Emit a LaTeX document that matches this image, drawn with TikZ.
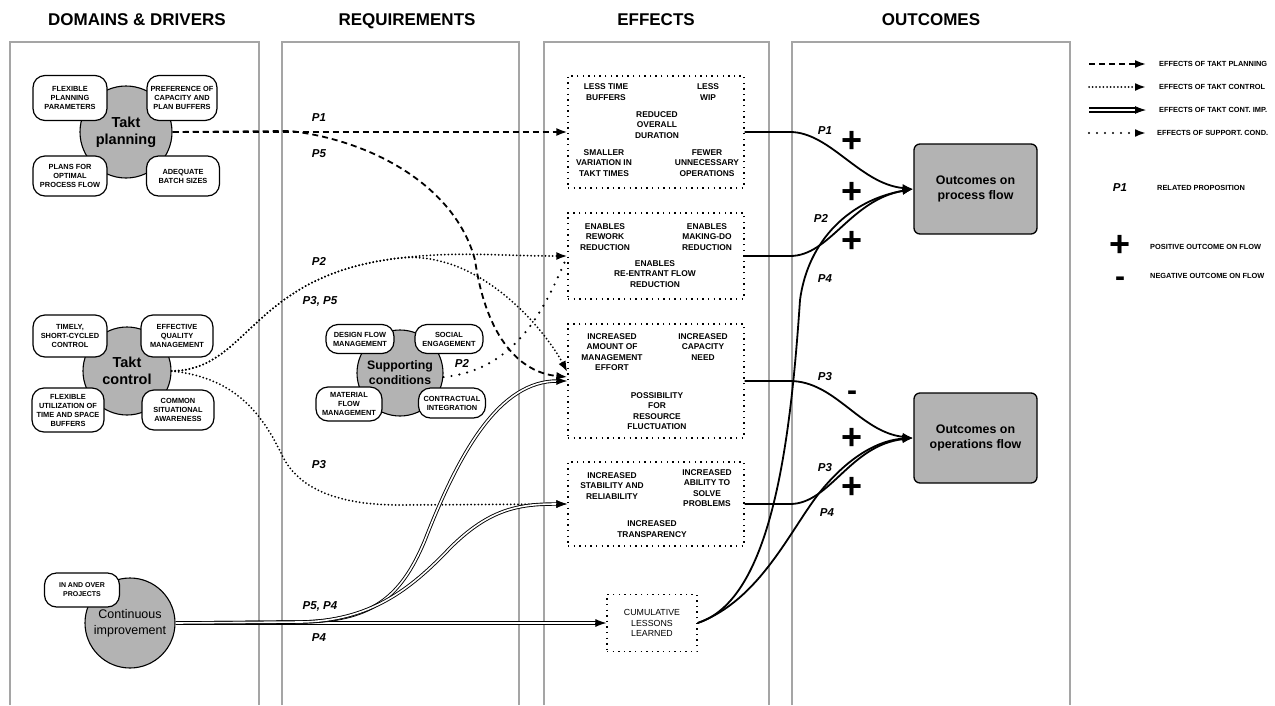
\documentclass[tikz,border=0pt]{standalone}
\usepackage{fontspec}
\setmainfont{Liberation Sans}
\usetikzlibrary{arrows.meta}
\definecolor{hubgray}{RGB}{179,179,179}
\definecolor{panelgray}{RGB}{165,165,165}
\begin{document}
\begin{tikzpicture}[x=1pt,y=-1pt,
  panel/.style={draw=panelgray,line width=1.4pt},
  header/.style={font=\bfseries\fontsize{17}{20}\selectfont,inner sep=0pt,anchor=base},
  hub/.style={circle,draw=black,line width=1.1pt,fill=hubgray,inner sep=0pt,align=center,font=\bfseries\fontsize{14.5}{17}\selectfont},
  pill/.style={draw=black,line width=1.2pt,fill=white,rounded corners=12pt,align=center,inner sep=0pt,font=\bfseries\fontsize{7.4}{9}\selectfont},
  effbox/.style={draw=black,line width=1.3pt,dash pattern=on 1.4pt off 4.2pt,minimum width=176pt,inner sep=0pt},
  efftxt/.style={align=center,inner sep=0pt,font=\bfseries\fontsize{8.4}{10.5}\selectfont},
  outbox/.style={draw=black,line width=1.3pt,fill=hubgray,rounded corners=6pt,minimum width=123pt,minimum height=90pt,align=center,font=\bfseries\fontsize{12.4}{14.5}\selectfont},
  plab/.style={font=\bfseries\itshape\fontsize{11.5}{13}\selectfont,inner sep=0pt},
  plussign/.style={font=\bfseries\fontsize{36}{36}\selectfont,inner sep=0pt,text height=10pt,text depth=0pt},
  minussign/.style={font=\bfseries\fontsize{30}{30}\selectfont,inner sep=0pt,text height=6pt,text depth=0pt},
  mytip/.style={-{Latex[length=11pt,width=8pt]}},
  planline/.style={line width=1.8pt,dash pattern=on 6pt off 4pt,mytip},
  ctrlline/.style={line width=2pt,line cap=round,dash pattern=on 0pt off 3.6pt},
  suppline/.style={line width=2.4pt,line cap=round,dash pattern=on 0pt off 8pt},
  impline/.style={draw=black,double=white,line width=0.9pt,double distance=1.6pt},
  outarrow/.style={line width=1.8pt,mytip},
  legtxt/.style={anchor=west,inner sep=0pt,font=\bfseries\fontsize{7.4}{8}\selectfont},
]
\useasboundingbox (0,0) rectangle (1275,705);

% headers
\node[header] (h1) at (137,25) {DOMAINS \& DRIVERS};
\node[header] (h2) at (407,25) {REQUIREMENTS};
\node[header] (h3) at (656,25) {EFFECTS};
\node[header] (h4) at (931,25) {OUTCOMES};

% panels
\draw[panel] (10,705) -- (10,42) -- (259,42) -- (259,705);
\draw[panel] (282,705) -- (282,42) -- (519,42) -- (519,705);
\draw[panel] (544,705) -- (544,42) -- (769,42) -- (769,705);
\draw[panel] (792,705) -- (792,42) -- (1070,42) -- (1070,705);

% takt planning
\node[hub,minimum size=92pt] (tp) at (126,132) {Takt\\planning};
\node[pill,minimum width=74pt,minimum height=45pt] (tp1) at (70,98) {FLEXIBLE\\PLANNING\\PARAMETERS};
\node[pill,minimum width=70pt,minimum height=45pt] (tp2) at (182,98) {PREFERENCE OF\\CAPACITY AND\\PLAN BUFFERS};
\node[pill,minimum width=74pt,minimum height=40pt] (tp3) at (70,176) {PLANS FOR\\OPTIMAL\\PROCESS FLOW};
\node[pill,minimum width=73pt,minimum height=40pt] (tp4) at (183,176) {ADEQUATE\\BATCH SIZES};

% takt control
\node[hub,minimum size=88pt] (tc) at (127,371) {Takt\\control};
\node[pill,minimum width=74pt,minimum height=42pt] (tc1) at (70,336) {TIMELY,\\SHORT-CYCLED\\CONTROL};
\node[pill,minimum width=72pt,minimum height=42pt] (tc2) at (177,336) {EFFECTIVE\\QUALITY\\MANAGEMENT};
\node[pill,minimum width=72pt,minimum height=44pt] (tc3) at (68,410) {FLEXIBLE\\UTILIZATION OF\\TIME AND SPACE\\BUFFERS};
\node[pill,minimum width=72pt,minimum height=40pt] (tc4) at (178,410) {COMMON\\SITUATIONAL\\AWARENESS};

% continuous improvement
\node[hub,minimum size=90pt,font=\fontsize{12.5}{16}\selectfont] (ci) at (130,623) {Continuous\\improvement};
\node[pill,minimum width=75pt,minimum height=34pt,font=\bfseries\fontsize{7}{9}\selectfont] (ci1) at (82,590) {IN AND OVER\\PROJECTS};

% supporting conditions
\node[hub,minimum size=86pt,font=\bfseries\fontsize{12.3}{15}\selectfont] (sc) at (400,373) {Supporting\\conditions};
\node[pill,minimum width=68pt,minimum height=29pt] (sc1) at (360,339) {DESIGN FLOW\\MANAGEMENT};
\node[pill,minimum width=68pt,minimum height=29pt] (sc2) at (449,339) {SOCIAL\\ENGAGEMENT};
\node[pill,minimum width=66pt,minimum height=34pt] (sc3) at (349,404) {MATERIAL\\FLOW\\MANAGEMENT};
\node[pill,minimum width=67pt,minimum height=30pt] (sc4) at (452,403) {CONTRACTUAL\\INTEGRATION};

% effects boxes
\node[effbox,minimum height=112pt] (e1) at (656,132) {};
\node[effbox,minimum height=86pt] (e2) at (656,256) {};
\node[effbox,minimum height=114pt] (e3) at (656,381) {};
\node[effbox,minimum height=84pt] (e4) at (656,504) {};
\node[effbox,minimum width=90pt,minimum height=57pt] (e5) at (652,623) {};

\node[efftxt] (t11) at (606,92) {LESS TIME\\BUFFERS};
\node[efftxt] (t12) at (708,92) {LESS\\WIP};
\node[efftxt] (t13) at (657,125) {REDUCED\\OVERALL\\DURATION};
\node[efftxt] (t14) at (604,163) {SMALLER\\VARIATION IN\\TAKT TIMES};
\node[efftxt] (t15) at (707,163) {FEWER\\UNNECESSARY\\OPERATIONS};

\node[efftxt] (t21) at (605,237) {ENABLES\\REWORK\\REDUCTION};
\node[efftxt] (t22) at (707,237) {ENABLES\\MAKING-DO\\REDUCTION};
\node[efftxt] (t23) at (655,274) {ENABLES\\RE-ENTRANT FLOW\\REDUCTION};

\node[efftxt] (t31) at (612,352) {INCREASED\\AMOUNT OF\\MANAGEMENT\\EFFORT};
\node[efftxt] (t32) at (703,347) {INCREASED\\CAPACITY\\NEED};
\node[efftxt] (t33) at (657,411) {POSSIBILITY\\FOR\\RESOURCE\\FLUCTUATION};

\node[efftxt] (t41) at (612,486) {INCREASED\\STABILITY AND\\RELIABILITY};
\node[efftxt] (t42) at (707,488) {INCREASED\\ABILITY TO\\SOLVE\\PROBLEMS};
\node[efftxt] (t43) at (652,529) {INCREASED\\TRANSPARENCY};

\node[efftxt,font=\fontsize{8.8}{10.3}\selectfont] (t51) at (652,623) {CUMULATIVE\\LESSONS\\LEARNED};

% outcomes
\node[outbox] (pf) at (975.5,189) {Outcomes on\\process flow};
\node[outbox] (of) at (975.5,438) {Outcomes on\\operations flow};

% takt planning effects
\draw[planline] (tp.east) -- (e1.west);
\draw[planline] (tp.east) -- (290,131) .. controls (370,140) and (455,185) .. (475,260) .. controls (485,330) and (515,372) .. ([yshift=4pt]e3.west);

% takt control effects
\draw[ctrlline,mytip] (tc.east) .. controls (250,370) and (250,275) .. (400,258) .. controls (460,251) and (500,256) .. (e2.west);
\draw[ctrlline,mytip] (tc.east) .. controls (250,370) and (250,275) .. (400,258) .. controls (480,250) and (545,330) .. ([yshift=9pt]e3.west);
\draw[ctrlline,mytip] (tc.east) .. controls (240,378) and (265,420) .. (283,457) .. controls (300,490) and (340,505) .. (400,505) -- (e4.west);

% supporting conditions effect
\draw[suppline] ([yshift=-4pt]sc.east) .. controls (520,370) and (548,300) .. (e2.west);

% continuous improvement effects
\draw[impline] (ci.east) -- ([xshift=-10pt]e5.west);
\draw[mytip,line width=0.9pt] ([xshift=-11pt]e5.west) -- (e5.west);
\draw[impline] (ci.east) -- (300,622) .. controls (370,621) and (400,600) .. (425,540) .. controls (460,450) and (500,381) .. ([xshift=-10pt]e3.west);
\draw[mytip,line width=0.9pt] ([xshift=-11pt]e3.west) -- (e3.west);
\draw[impline] (ci.east) -- (300,622) .. controls (370,621) and (410,590) .. (450,548) .. controls (490,508) and (520,504) .. ([xshift=-10pt]e4.west);
\draw[mytip,line width=0.9pt] ([xshift=-11pt]e4.west) -- (e4.west);

% outcomes connectors
\draw[outarrow] (e1.east) -- (790,132) .. controls (830,132) and (860,184) .. (pf.west);
\draw[outarrow] (e2.east) -- (790,256) .. controls (830,256) and (850,200) .. (pf.west);
\draw[outarrow] (e5.east) .. controls (770,600) and (790,450) .. (800,300) .. controls (808,240) and (850,200) .. (pf.west);
\draw[outarrow] (e3.east) -- (790,381) .. controls (835,381) and (860,432) .. (of.west);
\draw[outarrow] (e4.east) -- (790,504) .. controls (830,504) and (850,445) .. (of.west);
\draw[outarrow] (e5.east) .. controls (760,600) and (790,530) .. (820,492) .. controls (850,455) and (880,440) .. (of.west);

% proposition labels
\node[plab] (l1) at (319,118) {P1};
\node[plab] (l2) at (319,154) {P5};
\node[plab] (l3) at (319,261) {P2};
\node[plab] (l4) at (320,301) {P3, P5};
\node[plab] (l5) at (462,363) {P2};
\node[plab] (l6) at (319,465) {P3};
\node[plab] (l7) at (320,606) {P5, P4};
\node[plab] (l8) at (319,638) {P4};
\node[plab] (l9) at (825,131) {P1};
\node[plab] (l10) at (821,218) {P2};
\node[plab] (l11) at (825,279) {P4};
\node[plab] (l12) at (825,377) {P3};
\node[plab] (l13) at (825,468) {P3};
\node[plab] (l14) at (827,513) {P4};

% signs (baseline placed)
\node[plussign,anchor=base] (s1) at (852,152) {+};
\node[plussign,anchor=base] (s2) at (852,203) {+};
\node[plussign,anchor=base] (s3) at (852,252) {+};
\node[minussign,anchor=base] (s4) at (852,400) {-};
\node[plussign,anchor=base] (s5) at (852,449) {+};
\node[plussign,anchor=base] (s6) at (852,498) {+};

% legend
\coordinate (la1) at (1089,64); \coordinate (lb1) at (1146,64);
\coordinate (la2) at (1089,87); \coordinate (lb2) at (1146,87);
\coordinate (la3) at (1089,110); \coordinate (lb3) at (1146,110);
\coordinate (la4) at (1089,133); \coordinate (lb4) at (1146,133);
\draw[planline] (la1) -- (lb1);
\draw[ctrlline,mytip] (la2) -- (lb2);
\draw[impline,line width=1.8pt,double distance=2.4pt] (la3) -- ([xshift=-10pt]lb3);
\draw[mytip,line width=0.9pt] ([xshift=-11pt]lb3) -- (lb3);
\draw[suppline,mytip] (la4) -- (lb4);
\node[legtxt] (g1) at (1159,64) {EFFECTS OF TAKT PLANNING};
\node[legtxt] (g2) at (1159,87) {EFFECTS OF TAKT CONTROL};
\node[legtxt] (g3) at (1159,110) {EFFECTS OF TAKT CONT. IMP.};
\node[legtxt] (g4) at (1157,133) {EFFECTS OF SUPPORT. COND.};
\node[plab] (gp) at (1120,188) {P1};
\node[legtxt] (g5) at (1157,188) {RELATED PROPOSITION};
\node[plussign,anchor=base] (gplus) at (1120,256) {+};
\node[legtxt] (g6) at (1150,247) {POSITIVE OUTCOME ON FLOW};
\node[minussign,anchor=base] (gminus) at (1120,286) {-};
\node[legtxt] (g7) at (1150,276) {NEGATIVE OUTCOME ON FLOW};
\end{tikzpicture}
\end{document}
